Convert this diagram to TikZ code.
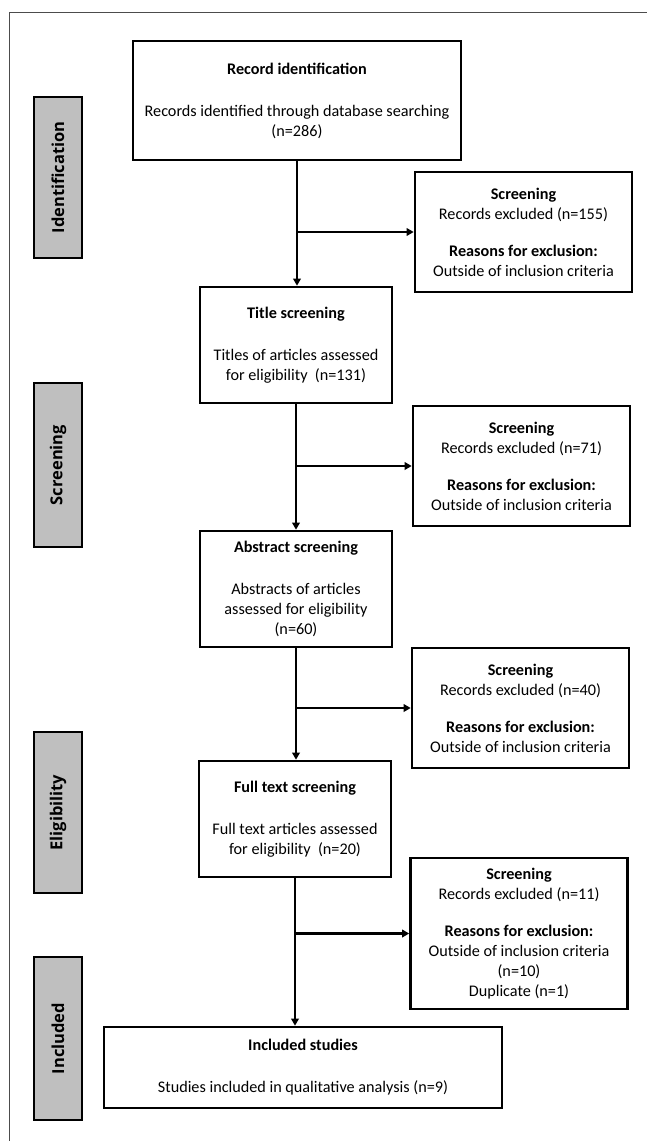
\documentclass[tikz,border=0pt]{standalone}
\usepackage{fontspec}
\setmainfont{Carlito}
\newfontfamily\phasefont{Open Sans}
\usetikzlibrary{arrows.meta, positioning}

\begin{document}
\begin{tikzpicture}[
    x=1pt, y=-1pt,
    % Styles
    flowbox/.style={
        rectangle,
        draw=black,
        line width=2.6pt,
        align=center,
        inner sep=2pt,
        font=\fontsize{16.2}{20}\selectfont
    },
    sidebox/.style={
        flowbox,
        minimum width=217pt
    },
    phase/.style={
        rectangle,
        draw=black,
        fill=black!25,
        line width=2.6pt,
        rotate=90,
        minimum height=48pt,
        font=\phasefont\bfseries\fontsize{16.5}{19}\selectfont
    },
    arrow/.style={
        -{Triangle[length=7pt,width=7.5pt]},
        line width=2.3pt
    }
]

\useasboundingbox (0,0) rectangle (647,1141);

% Outer frame (top and left edges only)
\draw[black!70, line width=0.8pt] (647,12) -- (9,12) -- (9,1141);

% Phase labels on the left
\node[phase, minimum width=161pt] (pid) at (58,177.5) {Identification};
\node[phase, minimum width=164pt] (pscr) at (58,465) {Screening};
\node[phase, minimum width=161pt] (pelig) at (58,812.5) {Eligibility};
\node[phase, minimum width=163pt] (pincl) at (58,1038.5) {Included};

% Main column
\node[flowbox, minimum width=328pt, minimum height=119pt] (rec) at (297,100.5) {
    \textbf{Record identification}\\[22pt]
    Records identified through database searching\\
    (n=286)
};
\node[flowbox, minimum width=192pt, minimum height=116pt] (title) at (296,345) {
    \textbf{Title screening}\\[22pt]
    Titles of articles assessed\\
    for eligibility~ (n=131)
};
\node[flowbox, minimum width=192pt, minimum height=116pt] (abs) at (296,589) {
    \textbf{Abstract screening}\\[22pt]
    Abstracts of articles\\
    assessed for eligibility\\
    (n=60)
};
\node[flowbox, minimum width=192pt, minimum height=116pt] (full) at (295,819) {
    \textbf{Full text screening}\\[22pt]
    Full text articles assessed\\
    for eligibility~ (n=20)
};
\node[flowbox, minimum width=398pt, minimum height=81pt] (incl) at (303,1067.5) {
    \textbf{Included studies}\\[22pt]
    Studies included in qualitative analysis (n=9)
};

% Exclusion boxes on the right
\node[sidebox, minimum height=120pt] (ex1) at (523.5,232) {
    \textbf{Screening}\\
    Records excluded (n=155)\\[17pt]
    \textbf{Reasons for exclusion:}\\
    Outside of inclusion criteria
};
\node[sidebox, minimum height=120pt] (ex2) at (521.5,466) {
    \textbf{Screening}\\
    Records excluded (n=71)\\[17pt]
    \textbf{Reasons for exclusion:}\\
    Outside of inclusion criteria
};
\node[sidebox, minimum height=120pt] (ex3) at (520.5,708) {
    \textbf{Screening}\\
    Records excluded (n=40)\\[17pt]
    \textbf{Reasons for exclusion:}\\
    Outside of inclusion criteria
};
\node[sidebox, minimum height=151pt] (ex4) at (519,933.5) {
    \textbf{Screening}\\
    Records excluded (n=11)\\[17pt]
    \textbf{Reasons for exclusion:}\\
    Outside of inclusion criteria\\
    (n=10)\\
    Duplicate (n=1)
};

% Downward arrows
\draw[arrow] (rec.south) -- (rec.south |- title.north);
\draw[arrow] (title.south) -- (title.south |- abs.north);
\draw[arrow] (abs.south) -- (abs.south |- full.north);
\draw[arrow] (full.south) -- (full.south |- incl.north);

% Branch arrows to exclusions
\draw[arrow] (rec.south |- ex1.west) -- (ex1.west);
\draw[arrow] (title.south |- ex2.west) -- (ex2.west);
\draw[arrow] (abs.south |- ex3.west) -- (ex3.west);
\draw[arrow] (full.south |- ex4.west) -- (ex4.west);

\end{tikzpicture}
\end{document}
